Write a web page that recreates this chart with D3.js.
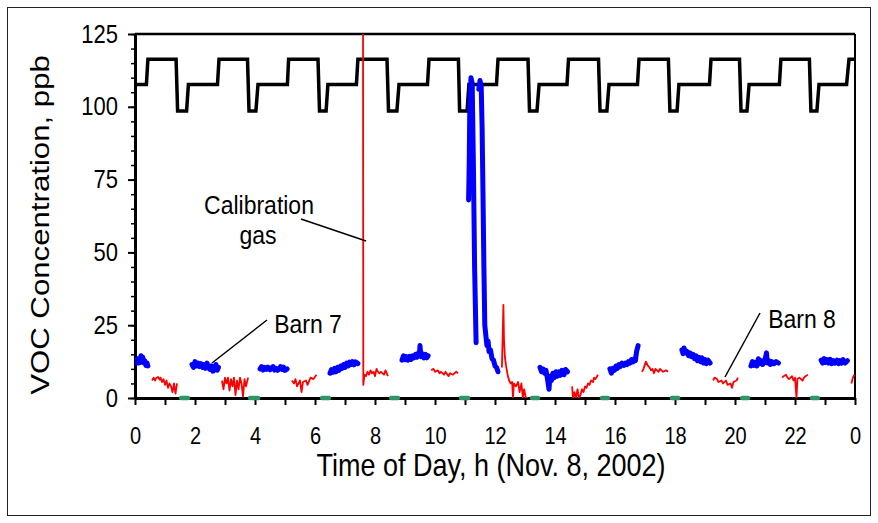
<!DOCTYPE html>
<html>
<head>
<meta charset="utf-8">
<script src="https://cdn.jsdelivr.net/npm/d3@7"></script>
<style>
  body { margin: 0; background: #fff; }
  svg { display: block; font-family: "Liberation Sans", Arial, sans-serif; }
</style>
</head>
<body>
<div id="chart"></div>
<script>
// hours of the day, ticks every hour, labels every 2 h
const xTickValues = d3.range(0, 25, 1);
const xTickLabels = ["0", "2", "4", "6", "8", "10", "12", "14", "16", "18", "20", "22", "0"];
const yMajorTicks = [0, 25, 50, 75, 100, 125];
const yMinorTicks = d3.range(0, 126, 5);

// sampling-valve signal (black square wave), [hour, level]
const valveSignal = [
  [0, 107.7], [0.38, 107.7], [0.43, 116.3], [1.37, 116.3], [1.42, 98.6], [1.72, 98.6], [1.78, 107.7],
  [2.75, 107.7], [2.8, 116.3], [3.75, 116.3], [3.8, 98.6], [4.03, 98.6], [4.1, 107.7],
  [5.08, 107.7], [5.12, 116.3], [6.1, 116.3], [6.15, 98.6], [6.37, 98.6], [6.43, 107.7],
  [7.38, 107.7], [7.43, 116.3], [8.4, 116.3], [8.45, 98.6], [8.73, 98.6], [8.8, 107.7],
  [9.75, 107.7], [9.8, 116.3], [10.78, 116.3], [10.82, 98.6], [11.07, 98.6], [11.13, 107.7],
  [12.05, 107.7], [12.1, 116.3], [13.1, 116.3], [13.15, 98.6], [13.4, 98.6], [13.47, 107.7],
  [14.4, 107.7], [14.45, 116.3], [15.45, 116.3], [15.5, 98.6], [15.73, 98.6], [15.8, 107.7],
  [16.75, 107.7], [16.8, 116.3], [17.78, 116.3], [17.83, 98.6], [18.07, 98.6], [18.13, 107.7],
  [19.15, 107.7], [19.2, 116.3], [20.15, 116.3], [20.2, 98.6], [20.4, 98.6], [20.47, 107.7],
  [21.48, 107.7], [21.53, 116.3], [22.48, 116.3], [22.53, 98.6], [22.73, 98.6], [22.8, 107.7],
  [23.72, 107.7], [23.8, 116.3], [24, 116.3]
];

// Barn 7 (blue), one array per sampling period
const barn7 = [
  [[0.05, 12], [0.08, 13.5], [0.12, 12], [0.15, 13], [0.18, 12.2], [0.2, 14.5], [0.23, 13], [0.26, 14], [0.3, 12], [0.33, 12.8], [0.36, 11.2], [0.4, 12], [0.43, 11]],
  [[1.9, 11.5], [1.95, 10.5], [2.0, 12.5], [2.05, 11], [2.1, 12], [2.15, 10.8], [2.2, 11.8], [2.25, 10.5], [2.3, 11.5], [2.35, 10.2], [2.4, 12], [2.45, 10.5], [2.5, 9.8], [2.55, 11], [2.6, 9.2], [2.65, 10.5], [2.7, 11.5], [2.74, 9.5], [2.78, 10.5]],
  [[4.17, 10], [4.22, 10.8], [4.27, 9.6], [4.32, 10.5], [4.38, 9.8], [4.43, 10.6], [4.5, 9.7], [4.55, 10.3], [4.6, 10.8], [4.65, 9.6], [4.7, 10.2], [4.75, 9.5], [4.8, 10], [4.85, 10.8], [4.9, 9.8], [4.95, 10.6], [5.0, 9.5], [5.07, 10]],
  [[6.5, 8.5], [6.55, 9.8], [6.6, 8.8], [6.65, 10.2], [6.7, 9], [6.75, 10.5], [6.8, 9.5], [6.85, 11], [6.9, 10.2], [6.95, 11.5], [7.0, 10.5], [7.05, 12], [7.1, 11], [7.15, 12.3], [7.2, 11.5], [7.25, 12.5], [7.3, 11.4], [7.35, 12.4], [7.43, 11.8]],
  [[8.9, 13], [8.95, 14.5], [9.0, 13.2], [9.05, 14.2], [9.1, 13], [9.15, 14.3], [9.2, 13.2], [9.25, 14.5], [9.3, 13.8], [9.35, 15], [9.4, 14], [9.45, 15.5], [9.48, 14.5], [9.5, 18], [9.53, 14.2], [9.58, 15.2], [9.63, 13.8], [9.68, 15], [9.73, 13.8], [9.77, 14.5]],
  [[11.12, 68], [11.14, 80], [11.16, 100], [11.2, 110], [11.24, 108], [11.28, 80], [11.32, 45], [11.37, 19]],
  [[11.46, 106], [11.5, 109], [11.54, 107], [11.57, 93], [11.6, 70], [11.63, 45], [11.66, 25], [11.7, 21], [11.73, 18], [11.77, 19.5], [11.8, 16], [11.85, 16.5], [11.9, 13.5], [11.95, 13], [12.0, 11], [12.05, 10.5], [12.1, 9]],
  [[13.5, 10.5], [13.55, 9], [13.6, 10], [13.65, 8.5], [13.7, 9.5], [13.75, 6.5], [13.8, 3], [13.83, 7.5], [13.88, 6], [13.93, 8.5], [13.98, 7], [14.03, 9], [14.08, 7.5], [14.13, 9], [14.18, 7.8], [14.23, 9.5], [14.3, 8], [14.35, 9.8], [14.42, 9]],
  [[15.83, 10], [15.88, 8.5], [15.93, 10.2], [15.98, 9.5], [16.03, 11], [16.08, 10.2], [16.13, 11.5], [16.18, 10.8], [16.23, 12], [16.3, 11.2], [16.35, 12], [16.4, 11.5], [16.45, 12.5], [16.5, 12], [16.55, 13.2], [16.6, 12.4], [16.65, 13.5], [16.68, 12.8], [16.72, 16], [16.77, 18]],
  [[18.23, 16.5], [18.27, 15.2], [18.3, 17.2], [18.35, 15.5], [18.4, 16], [18.45, 14.5], [18.5, 15.5], [18.55, 14.2], [18.6, 15], [18.65, 13.5], [18.7, 14.5], [18.75, 12.8], [18.8, 14], [18.85, 12.5], [18.9, 13.8], [18.95, 12], [19.0, 13.2], [19.05, 11.8], [19.1, 13], [19.17, 12]],
  [[20.53, 11], [20.58, 12.5], [20.63, 11.2], [20.68, 12.2], [20.73, 11], [20.78, 13.5], [20.82, 11.8], [20.87, 12.8], [20.92, 11.5], [20.97, 12.5], [21.02, 14], [21.05, 15.5], [21.08, 12], [21.13, 12.8], [21.18, 11.5], [21.23, 12.5], [21.3, 11.8], [21.37, 12.5], [21.45, 12]],
  [[22.87, 13], [22.92, 12], [22.97, 13.5], [23.02, 12.2], [23.07, 13.2], [23.12, 12], [23.17, 13.3], [23.22, 11.8], [23.28, 12.8], [23.33, 12], [23.4, 13], [23.45, 11.8], [23.5, 12.8], [23.55, 12], [23.6, 13.2], [23.67, 12], [23.75, 12.8]]
];

// Barn 8 (red)
const barn8 = [
  [[0.57, 6], [0.62, 7], [0.67, 6], [0.7, 6.8], [0.77, 7.2], [0.82, 6.3], [0.85, 7], [0.9, 5.5], [0.95, 6.5], [1.0, 4.5], [1.05, 6], [1.1, 3.5], [1.15, 5], [1.2, 4], [1.25, 2], [1.3, 5], [1.35, 1.5], [1.4, 5]],
  [[2.9, 6], [2.95, 3], [3.0, 7], [3.05, 5], [3.1, 7], [3.15, 2.5], [3.2, 6.5], [3.25, 4], [3.3, 7], [3.35, 1], [3.4, 6], [3.45, 3], [3.5, 7], [3.55, 5], [3.6, 0.5], [3.65, 6.5], [3.7, 4], [3.77, 7]],
  [[5.23, 6], [5.3, 5], [5.35, 6.5], [5.4, 4], [5.5, 6], [5.55, 2], [5.6, 5.5], [5.7, 6], [5.75, 4.5], [5.85, 7], [5.95, 6.5], [6.05, 8]],
  [[7.6, 140], [7.61, 4.5], [7.65, 8], [7.7, 7.5], [7.75, 9], [7.8, 8], [7.85, 9.5], [7.9, 8.5], [7.95, 9], [8.0, 7.5], [8.05, 10], [8.1, 9], [8.15, 8.5], [8.2, 9], [8.3, 8], [8.35, 9.5], [8.43, 7.5]],
  [[9.87, 9.5], [9.95, 10], [10.0, 9], [10.1, 9.5], [10.15, 8.5], [10.2, 9], [10.3, 8], [10.35, 9], [10.45, 7.5], [10.5, 8.5], [10.6, 8], [10.7, 9], [10.77, 8.5]],
  [[12.23, 10.5], [12.28, 32], [12.3, 20], [12.33, 14], [12.37, 11], [12.42, 8], [12.47, 6], [12.52, 5], [12.57, 5.5], [12.6, 0], [12.63, 5], [12.7, 4], [12.77, 5.5], [12.82, 2], [12.88, 5], [12.93, 0], [12.97, 3], [13.03, 0], [13.1, 0]],
  [[14.57, 4], [14.6, 0], [14.65, 2], [14.7, 0], [14.75, 3], [14.8, 0], [14.85, 1], [14.9, 3], [14.95, 2], [15.0, 4], [15.05, 3.5], [15.1, 5], [15.15, 4.5], [15.2, 6], [15.27, 5.5], [15.3, 7], [15.35, 6.5], [15.43, 8]],
  [[16.9, 9], [16.95, 10], [17.03, 12.5], [17.1, 11], [17.15, 10.5], [17.2, 9.5], [17.25, 10], [17.3, 8.5], [17.35, 10], [17.45, 9], [17.5, 10], [17.6, 9], [17.7, 9.5], [17.77, 9]],
  [[19.27, 6], [19.32, 7], [19.4, 6.5], [19.45, 5.5], [19.55, 6], [19.6, 5], [19.7, 6], [19.75, 4.5], [19.85, 5], [19.9, 3.5], [19.95, 5.5], [20.05, 6], [20.1, 7]],
  [[21.57, 7], [21.62, 7.5], [21.7, 8], [21.75, 7], [21.8, 6.5], [21.9, 7.5], [21.95, 6], [22.0, 7], [22.05, 0], [22.08, 6.5], [22.15, 7], [22.25, 6], [22.3, 7], [22.35, 7.5], [22.43, 8]],
  [[23.88, 5], [23.93, 7], [23.98, 8]]
];

// zero-air periods (green), start/end hour
const zeroPeriods = [
  [1.47, 1.83], [3.77, 4.17], [6.17, 6.53], [8.47, 8.83], [10.8, 11.17],
  [13.17, 13.5], [15.5, 15.83], [17.83, 18.17], [20.17, 20.5], [22.5, 22.83]
];

const margin = { top: 34, right: 23, bottom: 125, left: 135 },
    width = 878 - margin.left - margin.right,
    height = 523 - margin.top - margin.bottom;
const sy = 1.15; // the original figure is a bit stretched vertically

var svg = d3.select("#chart")
    .append("svg")
    .attr("width", 878)
    .attr("height", 523);

svg.append("rect")
    .attr("x", 7.5).attr("y", 7.5)
    .attr("width", 863).attr("height", 508)
    .attr("fill", "none").attr("stroke", "#222").attr("stroke-width", 1);

var xScale = d3.scaleLinear().domain([0, 24]).range([0, width]),
    yScale = d3.scaleLinear().domain([0, 125]).range([height, 0]);

var g = svg.append("g")
    .attr("transform", "translate(" + margin.left + "," + margin.top + ")");

g.append("defs").append("clipPath").attr("id", "plotclip")
    .append("rect").attr("width", width).attr("height", height);

// top and right frame
g.append("line").attr("x1", 0).attr("x2", width).attr("y1", yScale(125)).attr("y2", yScale(125))
    .attr("stroke", "#000").attr("stroke-width", 2.5);
g.append("line").attr("x1", xScale(24)).attr("x2", xScale(24)).attr("y1", 0).attr("y2", height)
    .attr("stroke", "#000").attr("stroke-width", 2);

// x axis
var xAxis = g.append("g")
    .attr("transform", "translate(0," + height + ")")
    .call(d3.axisBottom(xScale).tickValues(xTickValues).tickSize(7).tickSizeOuter(0)
        .tickFormat((d) => d % 2 === 0 ? xTickLabels[d / 2] : ""));
xAxis.select(".domain").attr("stroke-width", 3);
xAxis.selectAll(".tick line").attr("stroke-width", 2);
xAxis.selectAll("text")
    .attr("font-size", "20px").attr("fill", "#000")
    .attr("y", 0)
    .attr("transform", "translate(0,30) scale(1," + sy + ")");

// y axis, minor then major ticks
var yMinor = g.append("g")
    .call(d3.axisLeft(yScale).tickValues(yMinorTicks).tickSize(4).tickSizeOuter(0).tickFormat(""));
yMinor.select(".domain").remove();
yMinor.selectAll(".tick line").attr("stroke-width", 1.5);

var yAxis = g.append("g")
    .call(d3.axisLeft(yScale).tickValues(yMajorTicks).tickSize(7).tickPadding(10).tickSizeOuter(0));
yAxis.select(".domain").attr("stroke-width", 3);
yAxis.selectAll(".tick line").attr("stroke-width", 2);
yAxis.selectAll("text")
    .attr("font-size", "22px").attr("fill", "#000")
    .attr("transform", "scale(1," + sy + ")");

// axis titles
svg.append("text")
    .attr("transform", "translate(49,225) rotate(-90) scale(1.2,1)")
    .attr("text-anchor", "middle")
    .attr("font-size", "26px")
    .text("VOC Concentration, ppb");

svg.append("text")
    .attr("transform", "translate(491,476) scale(1," + sy + ")")
    .attr("text-anchor", "middle")
    .attr("font-size", "27px")
    .text("Time of Day, h (Nov. 8, 2002)");

var plot = g.append("g").attr("clip-path", "url(#plotclip)");

var line = d3.line()
    .x((d) => xScale(d[0]))
    .y((d) => yScale(d[1]));

plot.append("path")
    .datum(valveSignal)
    .attr("d", line)
    .attr("fill", "none")
    .attr("stroke", "#000")
    .attr("stroke-width", 3.5);

plot.selectAll(".barn8")
    .data(barn8)
    .enter().append("path")
    .attr("class", "barn8")
    .attr("d", line)
    .attr("fill", "none")
    .attr("stroke", "#ff0000")
    .attr("stroke-width", 1.8)
    .attr("stroke-linejoin", "round");

plot.selectAll(".barn7")
    .data(barn7)
    .enter().append("path")
    .attr("class", "barn7")
    .attr("d", line)
    .attr("fill", "none")
    .attr("stroke", "#0000ff")
    .attr("stroke-width", 5)
    .attr("stroke-linejoin", "round")
    .attr("stroke-linecap", "round");

g.selectAll(".zero")
    .data(zeroPeriods)
    .enter().append("line")
    .attr("class", "zero")
    .attr("x1", (d) => xScale(d[0]) + 2)
    .attr("x2", (d) => xScale(d[1]) - 2)
    .attr("y1", yScale(0))
    .attr("y2", yScale(0))
    .attr("stroke", "#2e9566")
    .attr("stroke-width", 4.5)
    .attr("stroke-linecap", "round");

// annotations
function label(x, y, txt) {
    svg.append("text")
        .attr("transform", "translate(" + x + "," + y + ") scale(1," + sy + ")")
        .attr("text-anchor", "middle")
        .attr("font-size", "23px")
        .text(txt);
}
label(259, 214, "Calibration");
label(258, 244, "gas");
label(308, 333, "Barn 7");
label(802, 328, "Barn 8");

[[301, 219, 366, 241], [267, 320, 212, 363], [760, 313, 725, 377]].forEach((l) => {
    svg.append("line")
        .attr("x1", l[0]).attr("y1", l[1]).attr("x2", l[2]).attr("y2", l[3])
        .attr("stroke", "#000").attr("stroke-width", 1.5);
});
</script>
</body>
</html>
